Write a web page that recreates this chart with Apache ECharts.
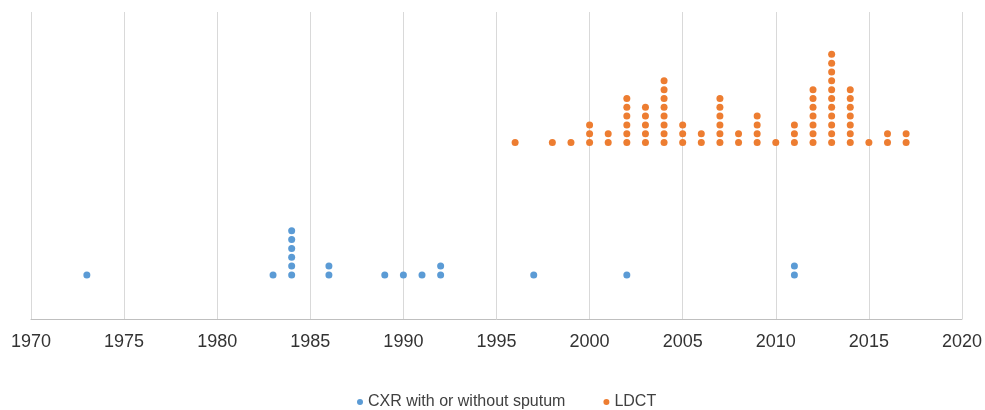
<!DOCTYPE html>
<html><head><meta charset="utf-8">
<script src="https://cdn.jsdelivr.net/npm/echarts@6/dist/echarts.min.js"></script>
<style>html,body{margin:0;padding:0;background:#fff}#c{width:985px;height:410px}</style>
</head><body><div id="c"></div>
<script>
var xTicks = [1970,1975,1980,1985,1990,1995,2000,2005,2010,2015,2020];
var cxrYears  = [1973,1983,1984,1986,1989,1990,1991,1992,1997,2002,2011];
var cxrCounts = [1,1,6,2,1,1,1,2,1,1,2];
var ldctYears  = [1996,1998,1999,2000,2001,2002,2003,2004,2005,2006,2007,2008,2009,2010,2011,2012,2013,2014,2015,2016,2017];
var ldctCounts = [1,1,1,3,2,6,5,8,3,2,6,2,4,1,3,7,11,7,1,2,2];
var cxrBase = 5, ldctBase = 20;

function stack(years, counts, base){
  var pts = [];
  years.forEach(function(y,i){ for(var k=0;k<counts[i];k++) pts.push([y, base+k]); });
  return pts;
}
var chart = echarts.init(document.getElementById('c'));
chart.setOption({
  animation:false,
  grid:{left:31,right:22,top:12,bottom:91},
  xAxis:{type:'value',min:1970,max:2020,interval:5,
    axisLine:{show:true,lineStyle:{color:'#bfbfbf',width:1}},
    axisTick:{show:false},
    axisLabel:{color:'#333333',fontSize:18,fontFamily:'Liberation Sans, Arial, sans-serif',margin:14,
      formatter:function(v){return xTicks.indexOf(v)>=0?String(v):'';}},
    splitLine:{show:true,lineStyle:{color:'#d9d9d9',width:1}}},
  yAxis:{type:'value',min:0,max:34.8,show:false,splitLine:{show:false}},
  legend:{top:389,left:352,icon:'circle',itemWidth:6,itemHeight:6,itemGap:38,
    textStyle:{color:'#404040',fontSize:16,fontFamily:'Liberation Sans, Arial, sans-serif'},
    data:['CXR with or without sputum','LDCT']},
  series:[
    {name:'CXR with or without sputum',type:'scatter',symbolSize:7,itemStyle:{color:'#5B9BD5',opacity:1},data:stack(cxrYears,cxrCounts,cxrBase)},
    {name:'LDCT',type:'scatter',symbolSize:7,itemStyle:{color:'#ED7D31',opacity:1},data:stack(ldctYears,ldctCounts,ldctBase)}
  ]
});
</script></body></html>
